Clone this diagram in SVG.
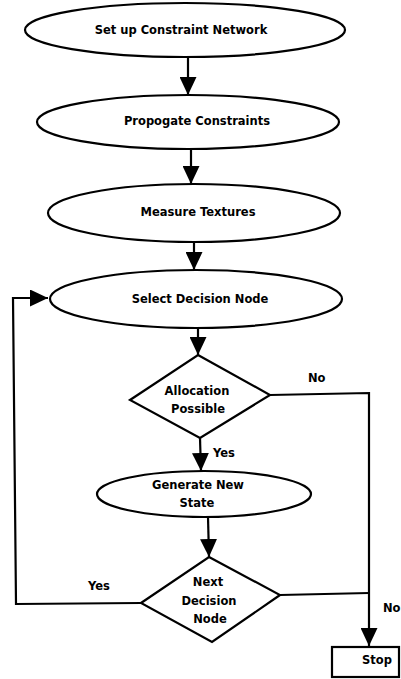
<svg xmlns="http://www.w3.org/2000/svg" width="401" height="679" viewBox="0 0 401 679">
<style>
.shape{fill:#fff;stroke:#000;stroke-width:2.2}
.line{fill:none;stroke:#000;stroke-width:2.2}
text{font-family:"DejaVu Sans","Liberation Sans",sans-serif;font-weight:bold;font-size:11.5px;fill:#000}
.c{text-anchor:middle}
</style>
<defs>
<marker id="arr" markerUnits="userSpaceOnUse" markerWidth="18" markerHeight="17" refX="18" refY="8.5" orient="auto">
<path d="M0,0 L18,8.5 L0,17 z" fill="#000"/>
</marker>
</defs>
<rect width="401" height="679" fill="#fff"/>
<g id="connectors">
<line class="line" x1="188" y1="57" x2="188" y2="95" marker-end="url(#arr)"/>
<line class="line" x1="191" y1="149" x2="191" y2="184" marker-end="url(#arr)"/>
<line class="line" x1="194" y1="242" x2="194" y2="270" marker-end="url(#arr)"/>
<line class="line" x1="198" y1="328" x2="198" y2="355" marker-end="url(#arr)"/>
<line class="line" x1="200" y1="438" x2="201" y2="471" marker-end="url(#arr)"/>
<line class="line" x1="208" y1="517" x2="209" y2="557" marker-end="url(#arr)"/>
<polyline class="line" points="270,395 369,393 369,646" marker-end="url(#arr)"/>
<polyline class="line" points="280,595 369,593"/>
<polyline class="line" points="141,603 16,604 13,298 48,298" marker-end="url(#arr)"/>
<text x="308" y="382">No</text>
<text x="213" y="457">Yes</text>
<text x="88" y="590">Yes</text>
<text x="383" y="612">No</text>
</g>
<g id="n1"><ellipse class="shape" cx="185" cy="30" rx="160" ry="27"/><text class="c" x="181" y="34">Set up Constraint Network</text></g>
<g id="n2"><ellipse class="shape" cx="188" cy="122" rx="151" ry="27"/><text class="c" x="197" y="125">Propogate Constraints</text></g>
<g id="n3"><ellipse class="shape" cx="194" cy="213" rx="146" ry="29"/><text class="c" x="198" y="216">Measure Textures</text></g>
<g id="n4"><ellipse class="shape" cx="196" cy="299" rx="146" ry="29"/><text class="c" x="200" y="303">Select Decision Node</text></g>
<g id="n5"><polygon class="shape" points="198,355 270,395 200,438 130,400"/><text class="c" x="197" y="395">Allocation</text><text class="c" x="198" y="413">Possible</text></g>
<g id="n6"><ellipse class="shape" cx="204" cy="494" rx="107" ry="23"/><text class="c" x="198" y="489">Generate New</text><text class="c" x="197" y="507">State</text></g>
<g id="n7"><polygon class="shape" points="209,557 280,595 212,642 141,603"/><text class="c" x="208" y="586">Next</text><text class="c" x="209" y="605">Decision</text><text class="c" x="210" y="623">Node</text></g>
<g id="n8"><rect class="shape" x="332" y="647" width="67" height="30"/><text class="c" x="377" y="664">Stop</text></g>
</svg>
